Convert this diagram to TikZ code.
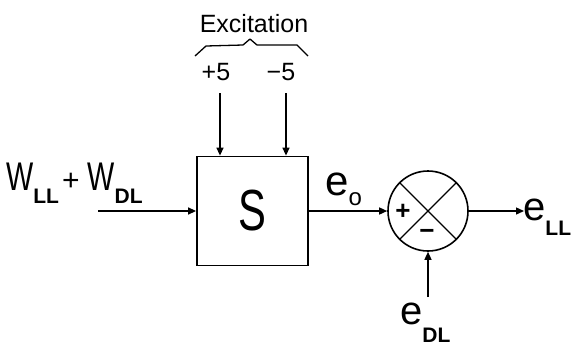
\documentclass[tikz,border=0pt]{standalone}
\usepackage{fontspec}
\setmainfont{Liberation Sans}
\usetikzlibrary{arrows.meta}
\newcommand\letsub[4]{\scalebox{#3}[1]{\fontsize{40}{40}\selectfont #1}\raisebox{#4}{\fontsize{21}{21}\selectfont\bfseries #2}}
\tikzset{
  conn/.style={line width=1.4pt,-{Triangle[length=8pt,width=7pt]}},
  lab/.style={inner sep=0pt,anchor=base west},
  block/.style={draw,line width=1.8pt,minimum width=111pt,minimum height=109pt,inner sep=0pt},
  sumnode/.style={draw,circle,line width=1.6pt,minimum size=80pt,inner sep=0pt},
}
\begin{document}
\begin{tikzpicture}[x=1pt,y=-1pt]
\useasboundingbox (0,0) rectangle (574,349);
% block
\node[block] (S) at (252.5,211) {\scalebox{0.72}[1]{\fontsize{58}{58}\selectfont S}};
% summing junction
\node[sumnode] (sum) at (428,211) {};
\draw[line width=1.4pt] (sum.north west) -- (sum.south east);
\draw[line width=1.4pt] (sum.north east) -- (sum.south west);
\node[inner sep=0pt] (plus) at (403,212) {\fontsize{26}{26}\selectfont\bfseries +};
\node[inner sep=0pt] (minus) at (427,234) {\fontsize{26}{26}\selectfont\bfseries −};
% labels
\node[lab] (win) at (6,190) {\letsub{W}{LL}{0.72}{-13pt}\hspace{3pt}\fontsize{30}{30}\selectfont+\hspace{8pt}\letsub{W}{DL}{0.72}{-13pt}};
\node[lab] (eo) at (325,195) {\fontsize{42}{42}\selectfont e\raisebox{-10pt}{\fontsize{24}{24}\selectfont o}};
\node[lab] (ell) at (523,220) {\letsub{e}{LL}{1}{-15pt}};
\node[lab] (edl) at (400,324) {\letsub{e}{DL}{1}{-18pt}};
\node[inner sep=0pt,anchor=base] (exc) at (254,32) {\fontsize{25}{25}\selectfont Excitation};
\node[inner sep=0pt,anchor=base] (p5) at (216,80) {\fontsize{25}{25}\selectfont +5};
\node[inner sep=0pt,anchor=base] (m5) at (281,80) {\fontsize{25}{25}\selectfont −5};
% brace
\draw[line width=1.3pt,line join=round] (195,56) -- (206,46) -- (243,45) -- (250,39) -- (257,45) -- (297,45) -- (308,56);
% connector end points
\coordinate (inA) at (98,211);
\coordinate (exA) at (220,93);
\coordinate (exB) at (286,93);
\coordinate (outA) at (524,211);
\coordinate (dlA) at (428,297);
% connectors
\draw[conn] (inA) -- (inA -| S.west);
\draw[conn] (exA) -- (exA |- S.north);
\draw[conn] (exB) -- (exB |- S.north);
\draw[conn] (S.east) -- (sum.west);
\draw[conn] (sum.east) -- (outA);
\draw[conn] (dlA) -- (sum.south);
\end{tikzpicture}
\end{document}
